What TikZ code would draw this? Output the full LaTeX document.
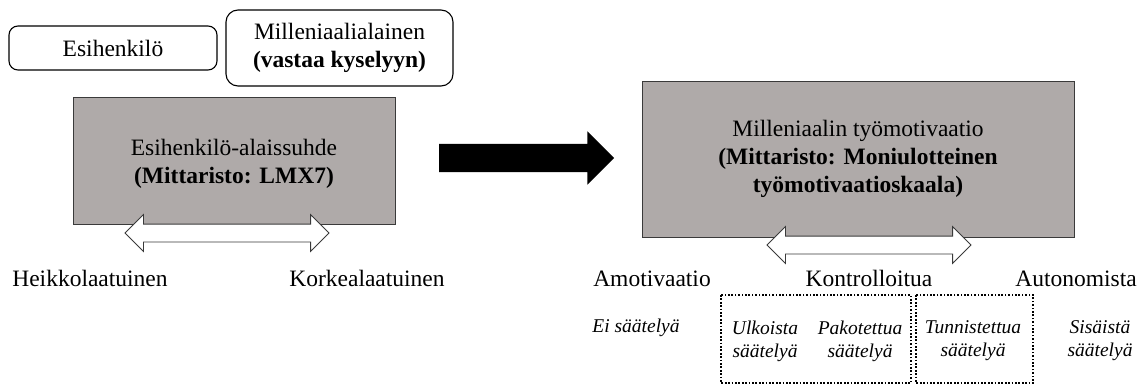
\documentclass[tikz,border=0pt]{standalone}
\usepackage{fontspec}
\setmainfont{Liberation Serif}
\usepackage{tikz}
\usetikzlibrary{shapes.arrows}
\usepackage{xcolor}
\definecolor{BoxGray}{HTML}{AFAAA9}
\definecolor{EdgeGray}{HTML}{3A3A3A}

\begin{document}
\begin{tikzpicture}[x=1pt,y=-1pt,
  txt/.style={font=\fontsize{23.5}{28}\selectfont,inner sep=0pt,align=center},
  lbl/.style={font=\fontsize{23.5}{28}\selectfont,inner sep=0pt,anchor=base},
  itx/.style={font=\fontsize{19.5}{23}\selectfont\itshape,inner sep=0pt,align=center},
  rolebox/.style={draw=black,line width=1.1pt,rounded corners=9pt,inner sep=0pt},
  graybox/.style={draw=EdgeGray,line width=0.9pt,fill=BoxGray,inner sep=0pt,align=center,font=\fontsize{23.5}{28}\selectfont},
  hollow/.style={double arrow,draw=EdgeGray,line width=0.8pt,fill=white,inner xsep=0pt,inner ysep=8.5pt,minimum width=0pt,double arrow head extend=9.5pt},
  dotbox/.style={draw=black,line width=2pt,dash pattern=on 1.7pt off 1.7pt}]
\useasboundingbox (0,0) rectangle (1138,385);
% role boxes
\node[rolebox,minimum width=208pt,minimum height=44pt] (esih) at (113,48) {};
\node[txt] (esihtxt) at (esih.center) {Esihenkilö};
\node[rolebox,rounded corners=12pt,minimum width=227pt,minimum height=76pt] (mill) at (339.5,48) {};
\node[txt] (milltxt) at (mill.center) {Milleniaalialainen\\\textbf{(vastaa kyselyyn)}};
% measured constructs
\node[graybox,minimum width=322pt,minimum height=127pt] (suhde) at (234,160.5) {};
\node[txt] (suhdetxt) at (234,164) {Esihenkilö-alaissuhde\\\textbf{(Mittaristo: LMX7)}};
\node[graybox,minimum width=432pt,minimum height=156pt] (motiv) at (858,159) {};
\node[txt] (motivtxt) at (motiv.center) {Milleniaalin työmotivaatio\\\textbf{(Mittaristo: Moniulotteinen}\\\textbf{työmotivaatioskaala)}};
% arrows
\node[single arrow,fill=black,inner xsep=0pt,inner ysep=14pt,minimum width=0pt,minimum height=175pt,single arrow head extend=12.5pt] (ennuste) at (519.5,158) {};
\node[hollow,minimum height=204pt] (skaalaL) at (227,233) {};
\node[hollow,minimum height=204pt] (skaalaR) at (869,245) {};
% scale ends
\node[lbl] (heikko) at (90,286) {Heikkolaatuinen};
\node[lbl] (korkea) at (367,286) {Korkealaatuinen};
\node[lbl] (amot) at (652,286) {Amotivaatio};
\node[lbl] (kontr) at (869,286) {Kontrolloitua};
\node[lbl] (auton) at (1076,286) {Autonomista};
% regulation types
\draw[dotbox] (721,295) rectangle (911,383);
\draw[dotbox] (916,295) rectangle (1033,383);
\node[itx] (ei) at (636,328) {Ei säätelyä};
\node[itx] (ulk) at (765,341) {Ulkoista\\säätelyä};
\node[itx] (pak) at (860,341) {Pakotettua\\säätelyä};
\node[itx] (tun) at (973,341) {Tunnistettua\\säätelyä};
\node[itx] (sis) at (1100,341) {Sisäistä\\säätelyä};
\end{tikzpicture}
\end{document}
